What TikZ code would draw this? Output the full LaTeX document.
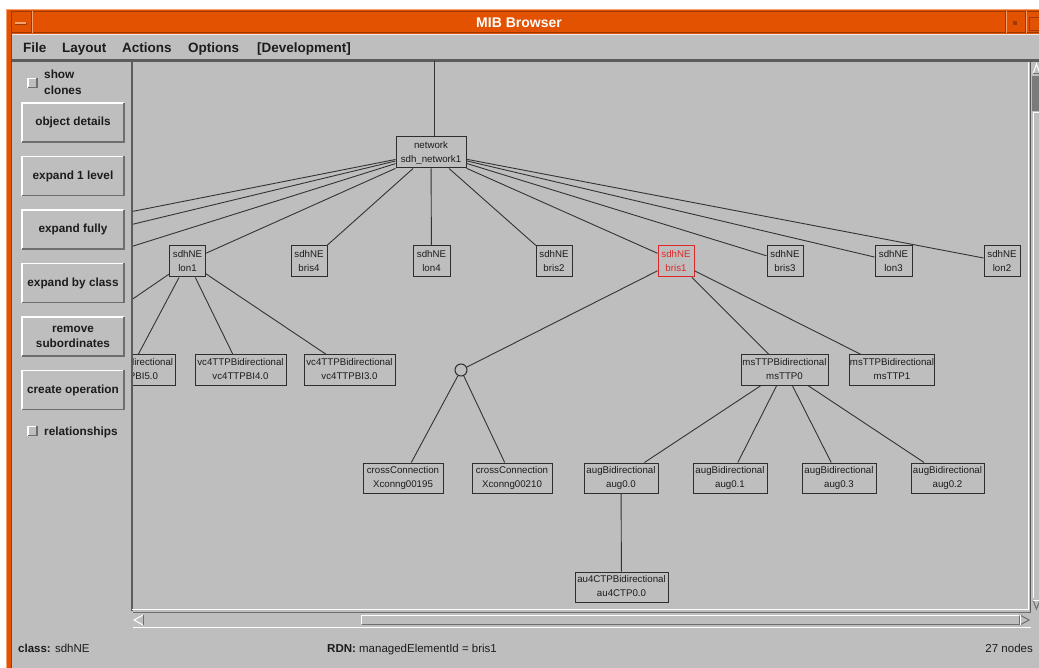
\documentclass[tikz,border=0pt]{standalone}
\usepackage{fontspec}
\setmainfont{Liberation Sans}
\definecolor{winbg}{HTML}{BEBEBE}
\definecolor{frameor}{HTML}{E35200}
\definecolor{frameordk}{HTML}{9C3A00}
\definecolor{frameorlt}{HTML}{F4A070}
\definecolor{sepdark}{HTML}{5C5C5C}
\definecolor{bevdark}{HTML}{6E6E6E}
\definecolor{ink}{HTML}{1C1C1C}
\definecolor{boxline}{HTML}{2E2E2E}
\definecolor{edgeline}{HTML}{333333}
\definecolor{selred}{HTML}{E02828}
\newcommand\nodefont{\fontsize{9.7}{14}\selectfont}
\newcommand\btnfont{\fontsize{11.8}{15}\selectfont\bfseries}
\newcommand\menufont{\fontsize{13.5}{16}\selectfont\bfseries}
\newcommand\titlefont{\fontsize{14}{16}\selectfont\bfseries}
\newcommand\statfont{\fontsize{11.5}{14}\selectfont}
\newcommand\twolines[2]{\strut#1\\\strut#2}
\begin{document}
\begin{tikzpicture}[x=1pt,y=-1pt,
  treebox/.style={draw=boxline, line width=1, inner sep=0, minimum height=31,
    align=center, font=\nodefont, text=ink},
  selbox/.style={treebox, draw=selred, text=selred},
  edge/.style={draw=edgeline, line width=0.9},
  panelbtn/.style={minimum width=102, minimum height=39, inner sep=0,
    align=center, font=\btnfont, text=ink},
  chk/.style={minimum width=9, minimum height=9, inner sep=0},
  chklabel/.style={anchor=base west, font=\btnfont, text=ink, inner sep=0},
  menu/.style={anchor=base west, font=\menufont, text=ink, inner sep=0},
  status/.style={anchor=base west, font=\statfont, text=ink, inner sep=0},
]
\useasboundingbox (0,0) rectangle (1039,668);
\fill[white] (0,0) rectangle (1039,668);

% ---------- window frame and title bar ----------
\fill[frameor] (6,9) rectangle (1039,668);
\fill[winbg] (12,34) rectangle (1039,668);
\draw[frameorlt, line width=1] (6,9.5) -- (1039,9.5);
\draw[frameorlt, line width=1] (6.5,9) -- (6.5,668);
\draw[frameordk, line width=1] (12,33) -- (1039,33);
\draw[frameordk, line width=1] (11.5,11) -- (11.5,668);
\draw[frameordk, line width=1] (12,11.5) -- (1039,11.5);
\draw[frameordk, line width=1] (31,11) -- (31,33);
\draw[frameorlt, line width=1] (32,11) -- (32,33);
\fill[frameordk] (15,23) rectangle (27,25);
\fill[frameorlt] (15,22) rectangle (26,24);
\draw[frameordk, line width=1] (1005,11) -- (1005,33);
\draw[frameorlt, line width=1] (1006,11) -- (1006,33);
\draw[frameordk, line width=1] (1025,11) -- (1025,33);
\draw[frameorlt, line width=1] (1026,11) -- (1026,33);
\fill[frameordk] (1013,21) rectangle (1017,25);
\draw[frameordk, line width=1] (1029.5,17.5) rectangle (1045,30.5);
\node[anchor=base, font=\titlefont, text=white, inner sep=0] (title) at (519,28) {MIB Browser};

% ---------- menu bar ----------
\draw[white!70!winbg, line width=1] (12,34.5) -- (1039,34.5);
\node[menu] (mfile) at (23,53) {File};
\node[menu] (mlayout) at (62,53) {Layout};
\node[menu] (mactions) at (122,53) {Actions};
\node[menu] (moptions) at (188,53) {Options};
\node[menu] (mdev) at (257,53) {[Development]};
\fill[sepdark] (12,59.5) rectangle (1039,62);

% ---------- left control panel ----------
\node[chk] (cbclones) at (32.5,83) {};
\node[chklabel] (lshow) at (44,79) {show};
\node[chklabel] (lclones) at (44,95) {clones};
\node[panelbtn] (bdetails) at (73,122.5) {object details};
\node[panelbtn] (bexp1) at (73,176) {expand 1 level};
\node[panelbtn] (bexpf) at (73,229.5) {expand fully};
\node[panelbtn] (bexpc) at (73,283) {expand by class};
\node[panelbtn, font=\fontsize{11.8}{15}\selectfont\bfseries] (bremove) at (73,336.5) {remove\\subordinates};
\node[panelbtn] (bcreate) at (73,390) {create operation};
\node[chk] (cbrel) at (32.5,431) {};
\node[chklabel] (lrel) at (44,435) {relationships};
\foreach \b in {bdetails,bexp1,bexpf,bexpc,bremove,bcreate,cbclones,cbrel}{
  \draw[white, line width=1.5] (\b.south west) -- (\b.north west) -- (\b.north east);
  \draw[bevdark, line width=1.5] (\b.north east) -- (\b.south east) -- (\b.south west);
}

% ---------- canvas frame and scrollbars ----------
\fill[sepdark] (131,62) rectangle (133,611);
\draw[white, line width=1] (1028,62) -- (1028,610);
\draw[white, line width=1] (132,609.5) -- (1028,609.5);
\draw[sepdark, line width=1] (1030.5,62) -- (1030.5,612);
% vertical scrollbar
\fill[black!35!winbg] (1032,76) rectangle (1039,111);
\draw[white, line width=1] (1033,74) -- (1036.5,64) -- (1040,74);
\draw[bevdark, line width=1] (1033,74) -- (1040,74);
\draw[white, line width=1] (1033.5,598) -- (1033.5,112.5) -- (1039,112.5);
\draw[bevdark, line width=1] (1033,600) -- (1036.5,609) -- (1040,600);
\draw[white, line width=1] (1033,600) -- (1040,600);
% horizontal scrollbar
\draw[bevdark, line width=1] (133,612.5) -- (1031,612.5);
\draw[white, line width=1] (133,627.5) -- (1031,627.5);
\draw[white, line width=1] (143,615) -- (134,620) -- (143,625);
\draw[bevdark, line width=1] (143,615) -- (143,625);
\draw[white, line width=1] (361.5,624) -- (361.5,615.5) -- (1019,615.5);
\draw[bevdark, line width=1] (361.5,624.5) -- (1019,624.5) -- (1019,615.5);
\draw[bevdark, line width=1] (1020,615) -- (1029,620) -- (1020,625);
\draw[white, line width=1] (1020,615) -- (1020,625);

% ---------- status line ----------
\node[status] (sclass) at (18,652) {\textbf{class:} sdhNE};
\node[status] (srdn) at (327,652) {\textbf{RDN:} managedElementId = bris1};
\node[status, anchor=base east] (scount) at (1033,652) {27 nodes};

% ---------- containment tree ----------
\begin{scope}
\clip (133,62) rectangle (1027.5,609);
\coordinate (up) at (434,20);
\node[treebox, minimum width=70] (network) at (431,152.5) {\twolines{network}{sdh\_network1}};
% level 1: network elements
\node[treebox, minimum width=36] (lon1)  at (187.5,261.5) {\twolines{sdhNE}{lon1}};
\node[treebox, minimum width=36] (bris4) at (309,261.5)   {\twolines{sdhNE}{bris4}};
\node[treebox, minimum width=37] (lon4)  at (431.5,261.5) {\twolines{sdhNE}{lon4}};
\node[treebox, minimum width=36] (bris2) at (554,261.5)   {\twolines{sdhNE}{bris2}};
\node[selbox,  minimum width=36] (bris1) at (676,261.5)   {\twolines{sdhNE}{bris1}};
\node[treebox, minimum width=36] (bris3) at (785,261.5)   {\twolines{sdhNE}{bris3}};
\node[treebox, minimum width=37] (lon3)  at (893.5,261.5) {\twolines{sdhNE}{lon3}};
\node[treebox, minimum width=36] (lon2)  at (1002,261.5)  {\twolines{sdhNE}{lon2}};
\coordinate (ne1) at (-121,261.5);
\coordinate (ne2) at (-22,261.5);
\coordinate (ne3) at (84,261.5);
% level 2
\coordinate (vc6) at (29,370);
\node[treebox, minimum width=91, minimum height=30] (vc5) at (130,370)   {\twolines{vc4TTPBidirectional}{vc4TTPBI5.0}};
\node[treebox, minimum width=91, minimum height=30] (vc4) at (240.5,370) {\twolines{vc4TTPBidirectional}{vc4TTPBI4.0}};
\node[treebox, minimum width=91, minimum height=30] (vc3) at (349.5,370) {\twolines{vc4TTPBidirectional}{vc4TTPBI3.0}};
\node[circle, draw=boxline, line width=1, minimum size=12, inner sep=0] (xcgroup) at (461,370) {};
\node[treebox, minimum width=87, minimum height=30] (ms0) at (784.5,370) {\twolines{msTTPBidirectional}{msTTP0}};
\node[treebox, minimum width=84, minimum height=30] (ms1) at (892,370)   {\twolines{msTTPBidirectional}{msTTP1}};
% level 3
\node[treebox, minimum width=80, minimum height=30] (xc195) at (403,478) {\twolines{crossConnection}{Xconng00195}};
\node[treebox, minimum width=80, minimum height=30] (xc210) at (512,478) {\twolines{crossConnection}{Xconng00210}};
\node[treebox, minimum width=74, minimum height=30] (aug00) at (621,478) {\twolines{augBidirectional}{aug0.0}};
\node[treebox, minimum width=74, minimum height=30] (aug01) at (730,478) {\twolines{augBidirectional}{aug0.1}};
\node[treebox, minimum width=74, minimum height=30] (aug03) at (839,478) {\twolines{augBidirectional}{aug0.3}};
\node[treebox, minimum width=73, minimum height=30] (aug02) at (947.5,478) {\twolines{augBidirectional}{aug0.2}};
% level 4
\node[treebox, minimum width=93, minimum height=30] (au4) at (621.5,587) {\twolines{au4CTPBidirectional}{au4CTP0.0}};

% connectors
\draw[edge] (up |- network.north) -- (up);
\foreach \c in {ne1,ne2,ne3,lon1,bris4,lon4,bris2,bris1,bris3,lon3,lon2}
  \draw[edge] (network) -- (\c);
\foreach \c in {vc6,vc5,vc4,vc3}
  \draw[edge] (lon1) -- (\c);
\foreach \c in {xcgroup,ms0,ms1}
  \draw[edge] (bris1) -- (\c);
\foreach \c in {xc195,xc210}
  \draw[edge] (xcgroup) -- (\c);
\foreach \c in {aug00,aug01,aug03,aug02}
  \draw[edge] (ms0) -- (\c);
\draw[edge] (aug00) -- (au4);
\end{scope}
\end{tikzpicture}
\end{document}
